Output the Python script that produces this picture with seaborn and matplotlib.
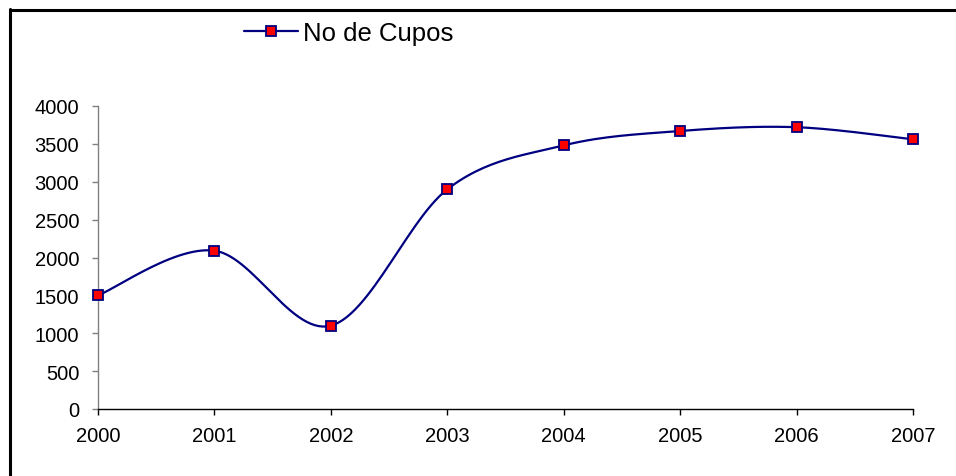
import numpy as np
import pandas as pd
import matplotlib
matplotlib.use("Agg")
import matplotlib.pyplot as plt
from matplotlib.lines import Line2D
import seaborn as sns

years = [2000, 2001, 2002, 2003, 2004, 2005, 2006, 2007]
cupos = [1500, 2090, 1100, 2900, 3480, 3670, 3720, 3560]
series_name = "No de Cupos"
yticks = [0, 500, 1000, 1500, 2000, 2500, 3000, 3500, 4000]

sns.set_theme(style="white")
plt.rcParams['font.family'] = ['Liberation Sans', 'DejaVu Sans']
plt.rcParams['text.color'] = 'black'
plt.rcParams['xtick.color'] = 'black'
plt.rcParams['ytick.color'] = 'black'

def smooth(x, y, n=30):
    # Excel-like smoothed line (Catmull-Rom Bezier) through the data points
    x = np.asarray(x, float); y = np.asarray(y, float)
    px = np.concatenate([[x[0]], x, [x[-1]]])
    py = np.concatenate([[y[0]], y, [y[-1]]])
    xs, ys = [], []
    for i in range(1, len(px) - 2):
        p0 = np.array([px[i], py[i]]); p3 = np.array([px[i+1], py[i+1]])
        c1 = p0 + (np.array([px[i+1], py[i+1]]) - np.array([px[i-1], py[i-1]])) / 6
        c2 = p3 - (np.array([px[i+2], py[i+2]]) - np.array([px[i], py[i]])) / 6
        t = np.linspace(0, 1, n)[:, None]
        b = (1-t)**3*p0 + 3*(1-t)**2*t*c1 + 3*(1-t)*t**2*c2 + t**3*p3
        xs.extend(b[:, 0]); ys.extend(b[:, 1])
    return np.array(xs), np.array(ys)

sx, sy = smooth(years, cupos)
curve = pd.DataFrame({"x": sx, "y": sy, "order": np.arange(len(sx))})
pts = pd.DataFrame({"year": years, "cupos": cupos})

fig = plt.figure(figsize=(9.56, 4.77), dpi=100)
ax = fig.add_axes([98/956, 1-410/477, (913-98)/956, (410-107)/477])

navy = "#000080"
sns.lineplot(data=curve, x="x", y="y", sort=False, estimator=None, ax=ax,
             color=navy, linewidth=1.6)
ax.plot(pts["year"], pts["cupos"], linestyle="none", marker="s", markersize=7,
        markerfacecolor="#ff0000", markeredgecolor=navy, markeredgewidth=1.3,
        clip_on=False, zorder=5)

ax.set_xlim(2000, 2007)
ax.set_ylim(0, 4000)
ax.set_xticks(years)
ax.set_xticklabels([str(y) for y in years])
ax.set_yticks(yticks)
ax.set_yticklabels([str(v) for v in yticks])
ax.set_xlabel("")
ax.set_ylabel("")
for s in ["top", "right"]:
    ax.spines[s].set_visible(False)
ax.spines["left"].set_color("#808080")
ax.spines["left"].set_linewidth(1.0)
ax.spines["bottom"].set_color("black")
ax.spines["bottom"].set_linewidth(1.0)
ax.tick_params(axis="y", direction="out", length=4.5, width=1, color="#808080",
               labelcolor="black", labelsize=14.5, pad=9, left=True)
ax.tick_params(axis="x", direction="out", length=4, width=1, color="black",
               labelcolor="black", labelsize=14.5, pad=8, bottom=True)
ax.grid(False)

handle = Line2D([0], [0], color=navy, linewidth=1.6, marker="s", markersize=7,
                markerfacecolor="#ff0000", markeredgecolor=navy, markeredgewidth=1.3)
fig.legend([handle], [series_name], loc="center left",
           bbox_to_anchor=(244/956, 1-34/477), frameon=False, fontsize=18.5,
           handlelength=2.1, handletextpad=0.2, borderaxespad=0, borderpad=0,
           labelcolor="black")

# outer chart frame (left and top edges visible)
fig.add_artist(Line2D([9.5/956, 9.5/956], [0, 1-10/477], color="black", linewidth=2.2,
                      transform=fig.transFigure))
fig.add_artist(Line2D([9.5/956, 1], [1-10.5/477, 1-10.5/477], color="black", linewidth=2.2,
                      transform=fig.transFigure))

fig.savefig("out.png", dpi=100)
